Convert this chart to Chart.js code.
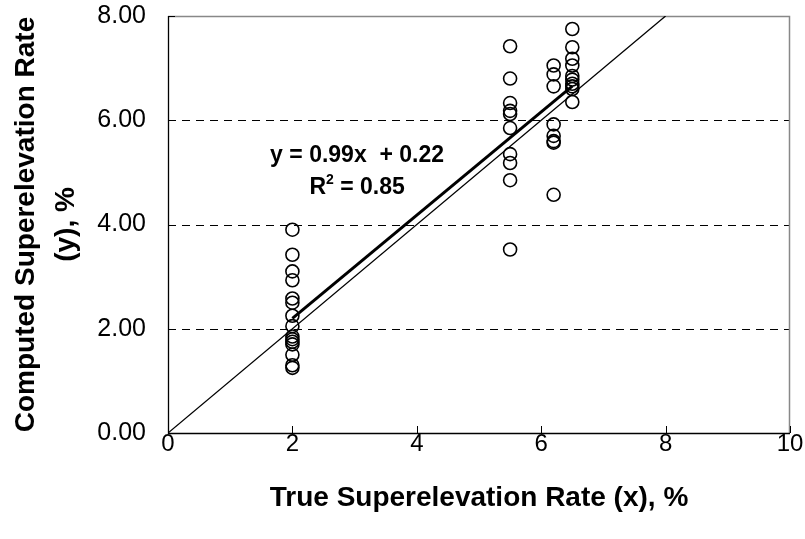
<!DOCTYPE html>
<html>
<head>
<meta charset="utf-8">
<script src="https://cdn.jsdelivr.net/npm/chart.js@4"></script>
<style>
html,body{margin:0;padding:0;background:#fff;}
#wrap{width:805px;height:539px;}
</style>
</head>
<body>
<div id="wrap"><canvas id="c" width="805" height="539"></canvas></div>
<script>
// Observed data: true rate (x) and computed rate (y)
const x2 = [2, 2, 2, 2, 2, 2, 2, 2, 2, 2, 2, 2, 2, 2, 2];
const y2 = [3.90, 3.42, 3.10, 2.93, 2.58, 2.50, 2.25, 2.05, 1.85, 1.80, 1.75, 1.70, 1.50, 1.30, 1.25];
const x55 = [5.5, 5.5, 5.5, 5.5, 5.5, 5.5, 5.5, 5.5, 5.5, 5.5];
const y55 = [7.42, 6.80, 6.33, 6.18, 6.12, 5.85, 5.35, 5.18, 4.85, 3.52];
const x62 = [6.2, 6.2, 6.2, 6.2, 6.2, 6.2, 6.2, 6.2];
const y62 = [7.05, 6.88, 6.65, 5.92, 5.70, 5.60, 5.57, 4.57];
const x65 = [6.5, 6.5, 6.5, 6.5, 6.5, 6.5, 6.5, 6.5, 6.5, 6.5];
const y65 = [7.75, 7.40, 7.18, 7.05, 6.85, 6.78, 6.70, 6.65, 6.60, 6.35];

// Regression trendline (y = 0.99x + 0.22) endpoints over data range
const trendX = [2, 6.5];
const trendY = [2.20, 6.655];
// 1:1 reference line
const refX = [0, 8];
const refY = [0, 8];

const xTicks = [0, 2, 4, 6, 8, 10];
const yTicks = [0, 2, 4, 6, 8];
const yGrid = [2, 4, 6];
const eqText = 'y = 0.99x  + 0.22';
const r2Text = 'R² = 0.85';

const points = [];
[[x2, y2], [x55, y55], [x62, y62], [x65, y65]].forEach(([xs, ys]) => {
  xs.forEach((v, i) => points.push({x: v, y: ys[i]}));
});
const trend = trendX.map((v, i) => ({x: v, y: trendY[i]}));
const ref = refX.map((v, i) => ({x: v, y: refY[i]}));

const FONT = "'Liberation Sans', Arial, sans-serif";

const framePlugin = {
  id: 'frame',
  beforeDatasetsDraw(chart) {
    const {ctx, chartArea: a, scales: {x, y}} = chart;
    ctx.save();
    ctx.strokeStyle = '#000';
    ctx.lineWidth = 1;
    ctx.setLineDash([8, 6]);
    yGrid.forEach(v => {
      const py = Math.round(y.getPixelForValue(v)) + 0.5;
      ctx.beginPath(); ctx.moveTo(a.left, py); ctx.lineTo(a.right, py); ctx.stroke();
    });
    ctx.setLineDash([]);
    ctx.strokeStyle = '#888';
    ctx.lineWidth = 1.5;
    ctx.beginPath();
    ctx.moveTo(a.left, a.top + 0.5); ctx.lineTo(a.right - 0.5, a.top + 0.5); ctx.lineTo(a.right - 0.5, a.bottom);
    ctx.stroke();
    ctx.strokeStyle = '#000';
    ctx.lineWidth = 1.3;
    ctx.beginPath();
    ctx.moveTo(a.left + 0.5, a.top); ctx.lineTo(a.left + 0.5, a.bottom + 0.5); ctx.lineTo(a.right, a.bottom + 0.5);
    ctx.stroke();
    ctx.lineWidth = 1;
    xTicks.forEach(v => {
      const px = Math.round(x.getPixelForValue(v)) + 0.5;
      ctx.beginPath(); ctx.moveTo(px, a.bottom); ctx.lineTo(px, a.bottom - 7); ctx.stroke();
    });
    yTicks.forEach(v => {
      const py = Math.round(y.getPixelForValue(v)) + 0.5;
      ctx.beginPath(); ctx.moveTo(a.left, py); ctx.lineTo(a.left + 7, py); ctx.stroke();
    });
    ctx.restore();
  },
  afterDatasetsDraw(chart) {
    const {ctx, scales: {x, y}} = chart;
    ctx.save();
    ctx.fillStyle = '#000';
    ctx.textAlign = 'center';
    ctx.textBaseline = 'middle';
    ctx.font = 'bold 23px ' + FONT;
    const cx = x.getPixelForValue(3.04);
    ctx.fillText(eqText, cx, y.getPixelForValue(5.33));
    const py = y.getPixelForValue(4.70);
    ctx.font = 'bold 23px ' + FONT;
    const wR = ctx.measureText('R').width;
    const wRest = ctx.measureText(' = 0.85').width;
    ctx.font = 'bold 14px ' + FONT;
    const w2 = ctx.measureText('2').width;
    let sx = cx - (wR + w2 + wRest) / 2;
    ctx.textAlign = 'left';
    ctx.font = 'bold 23px ' + FONT;
    ctx.fillText('R', sx, py);
    ctx.font = 'bold 14px ' + FONT;
    ctx.fillText('2', sx + wR, py - 8);
    ctx.font = 'bold 23px ' + FONT;
    ctx.fillText(' = 0.85', sx + wR + w2, py);
    ctx.restore();
  }
};

new Chart(document.getElementById('c'), {
  type: 'scatter',
  data: {
    datasets: [
      {
        type: 'line', data: ref, borderColor: '#000', borderWidth: 1.3,
        pointRadius: 0, fill: false, order: 3
      },
      {
        type: 'line', data: trend, borderColor: '#000', borderWidth: 3,
        pointRadius: 0, fill: false, order: 2
      },
      {
        data: points, pointStyle: 'circle', pointRadius: 6.5,
        pointBorderColor: '#000', pointBackgroundColor: 'rgba(0,0,0,0)',
        pointBorderWidth: 1.6, order: 1
      }
    ]
  },
  options: {
    responsive: false,
    animation: false,
    devicePixelRatio: 1,
    layout: {autoPadding: false, padding: {top: 16, right: 15, left: 0, bottom: 0}},
    plugins: {legend: {display: false}, tooltip: {enabled: false}},
    scales: {
      x: {
        type: 'linear', min: 0, max: 10,
        afterBuildTicks(s) { s.ticks = xTicks.map(v => ({value: v})); },
        afterFit(s) { s.height = 106; },
        grid: {display: false, drawTicks: false},
        border: {display: false},
        ticks: {color: '#000', padding: -3, font: {family: FONT, size: 24}, maxRotation: 0,
                callback: v => String(v)},
        title: {display: true, text: 'True Superelevation Rate (x), %', color: '#000',
                font: {family: FONT, size: 28, weight: 'bold'}, padding: {top: 0, bottom: 24}}
      },
      y: {
        type: 'linear', min: 0, max: 8,
        afterBuildTicks(s) { s.ticks = yTicks.map(v => ({value: v})); },
        afterFit(s) { s.width = 168; },
        grid: {display: false, drawTicks: true, tickLength: 22},
        border: {display: false},
        ticks: {color: '#000', padding: 0, font: {family: FONT, size: 25},
                callback: v => Number(v).toFixed(2)},
        title: {display: true, text: ['Computed Superelevation Rate', '(y), %'], color: '#000',
                font: {family: FONT, size: 28, weight: 'bold', lineHeight: 1.4}, padding: {top: 7, bottom: 0}}
      }
    }
  },
  plugins: [framePlugin]
});
</script>
</body>
</html>
